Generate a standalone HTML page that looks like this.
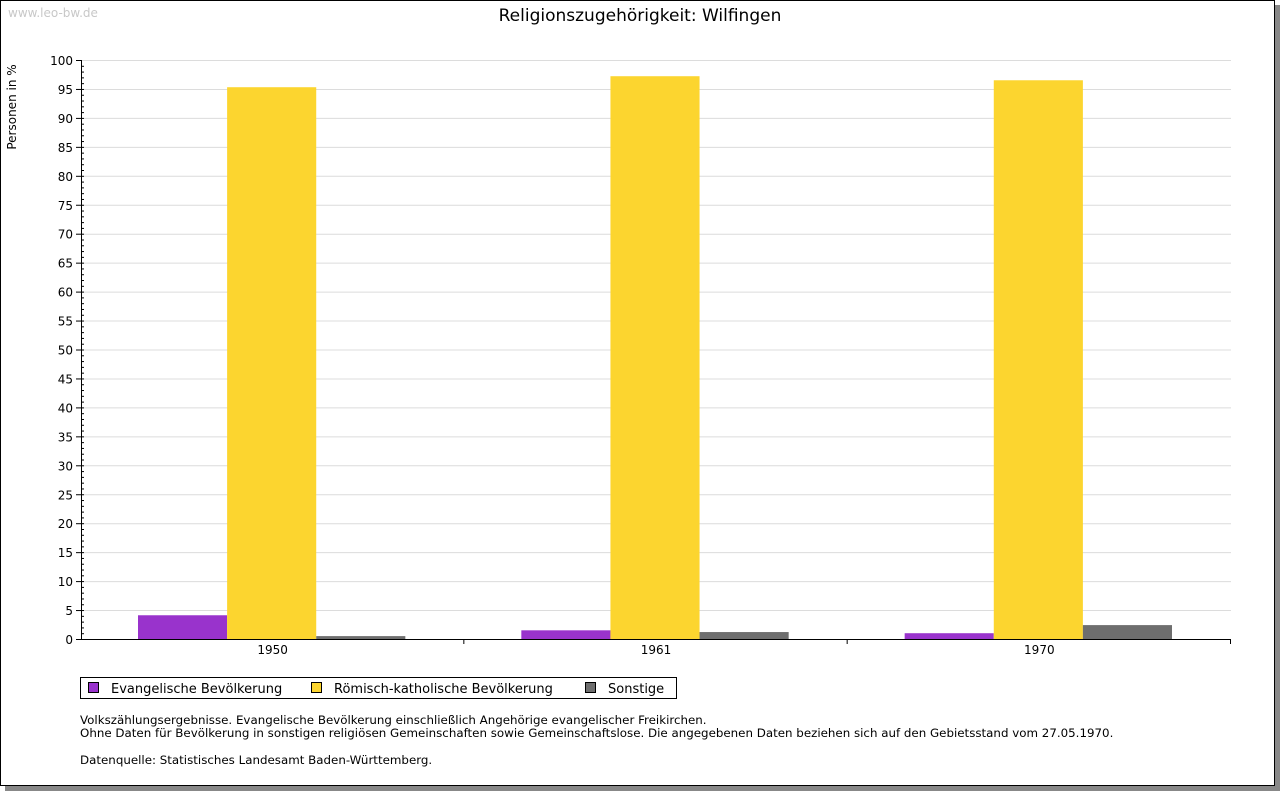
<!DOCTYPE html>
<html><head><meta charset="utf-8"><style>
body{margin:0;background:#fff;width:1280px;height:791px;overflow:hidden;font-family:"DejaVu Sans","Liberation Sans",sans-serif}
</style></head><body>
<svg id="c" width="1280" height="791" xmlns="http://www.w3.org/2000/svg">
<rect x="5" y="5" width="1275" height="786" fill="#888"/>
<rect x="0.5" y="0.5" width="1274" height="785" fill="#fff" stroke="#000"/>
<text x="8" y="17" font-size="12" fill="#c8c8c8">www.leo-bw.de</text>
<text x="640" y="21" font-size="17" text-anchor="middle" fill="#000">Religionszugehörigkeit: Wilfingen</text>
<text transform="translate(16,107) rotate(-90)" font-size="12" text-anchor="middle">Personen in %</text>
<g id="grid"></g><g id="bars"></g><g id="axes"></g>
<g>
<rect x="80.5" y="677.5" width="596" height="21" fill="#fff" stroke="#000"/>
<g><rect x="88.5" y="682.5" width="10" height="10" fill="#9933cc" stroke="#000"/><text x="111" y="693" font-size="13">Evangelische Bevölkerung</text></g>
<g><rect x="311.5" y="682.5" width="10" height="10" fill="#fcd52f" stroke="#000"/><text x="334" y="693" font-size="13">Römisch-katholische Bevölkerung</text></g>
<g><rect x="585.5" y="682.5" width="10" height="10" fill="#6e6e6e" stroke="#000"/><text x="608" y="693" font-size="13">Sonstige</text></g>
</g>
<g font-size="11.85">
<text x="80" y="724">Volkszählungsergebnisse. Evangelische Bevölkerung einschließlich Angehörige evangelischer Freikirchen.</text>
<text x="80" y="737">Ohne Daten für Bevölkerung in sonstigen religiösen Gemeinschaften sowie Gemeinschaftslose. Die angegebenen Daten beziehen sich auf den Gebietsstand vom 27.05.1970.</text>
<text x="80" y="764">Datenquelle: Statistisches Landesamt Baden-Württemberg.</text>
</g>
</svg>
<script>
const categories=["1950","1961","1970"];
const evangelisch=[4.1,1.5,1.0];
const katholisch=[95.3,97.2,96.5];
const sonstige=[0.5,1.2,2.4];
const yTicks=[0,5,10,15,20,25,30,35,40,45,50,55,60,65,70,75,80,85,90,95,100];
const NS="http://www.w3.org/2000/svg";
const X0=81,X1=1231,Y0=639,Y1=60;
const y=v=>Y0-(v/100)*(Y0-Y1);
const gw=(X1-X0)/categories.length;
const gx=i=>X0+i*gw;
function mk(t,a,p){const e=document.createElementNS(NS,t);for(const k in a)e.setAttribute(k,a[k]);p.appendChild(e);return e;}
const grid=document.getElementById('grid'),bars=document.getElementById('bars'),axes=document.getElementById('axes');
yTicks.forEach(v=>{
  if(v>0){const l=mk('line',{x1:X0,x2:X1,y1:y(v)+.5,y2:y(v)+.5,stroke:'#dcdcdc'},grid);
  
  }
  const t=mk('text',{x:73,y:y(v)+5,'font-size':12,'text-anchor':'end'},axes);t.textContent=v;
  
  
  mk('line',{x1:X0-5,x2:X0,y1:y(v)+.5,y2:y(v)+.5,stroke:'#000'},axes);
});
for(let v=0;v<100;v++){mk('line',{x1:X0,x2:X0+3,y1:y(v)+.5,y2:y(v)+.5,stroke:'#000'},axes);}
const series=[[evangelisch,'#9933cc','evangelisch'],[katholisch,'#fcd52f','katholisch'],[sonstige,'#6e6e6e','sonstige']];
const bw=(gw-116)/3;
categories.forEach((c,i)=>{
  series.forEach((s,j)=>{
    const v=s[0][i];
    const r=mk('rect',{x:gx(i)+57+j*bw,y:y(v),width:bw,height:Y0-y(v),fill:s[1]},bars);
    
    
  });
  const t=mk('text',{x:gx(i)+gw/2,y:654,'font-size':12,'text-anchor':'middle'},axes);t.textContent=c;
  
  
  mk('line',{x1:gx(i+1)-.5,x2:gx(i+1)-.5,y1:Y0,y2:Y0+5,stroke:'#000'},axes);
});
mk('line',{x1:X0+.5,x2:X0+.5,y1:Y1,y2:Y0+1,stroke:'#000'},axes);
mk('line',{x1:X0,x2:X1,y1:Y0+.5,y2:Y0+.5,stroke:'#000'},axes);
</script>
</body></html>
